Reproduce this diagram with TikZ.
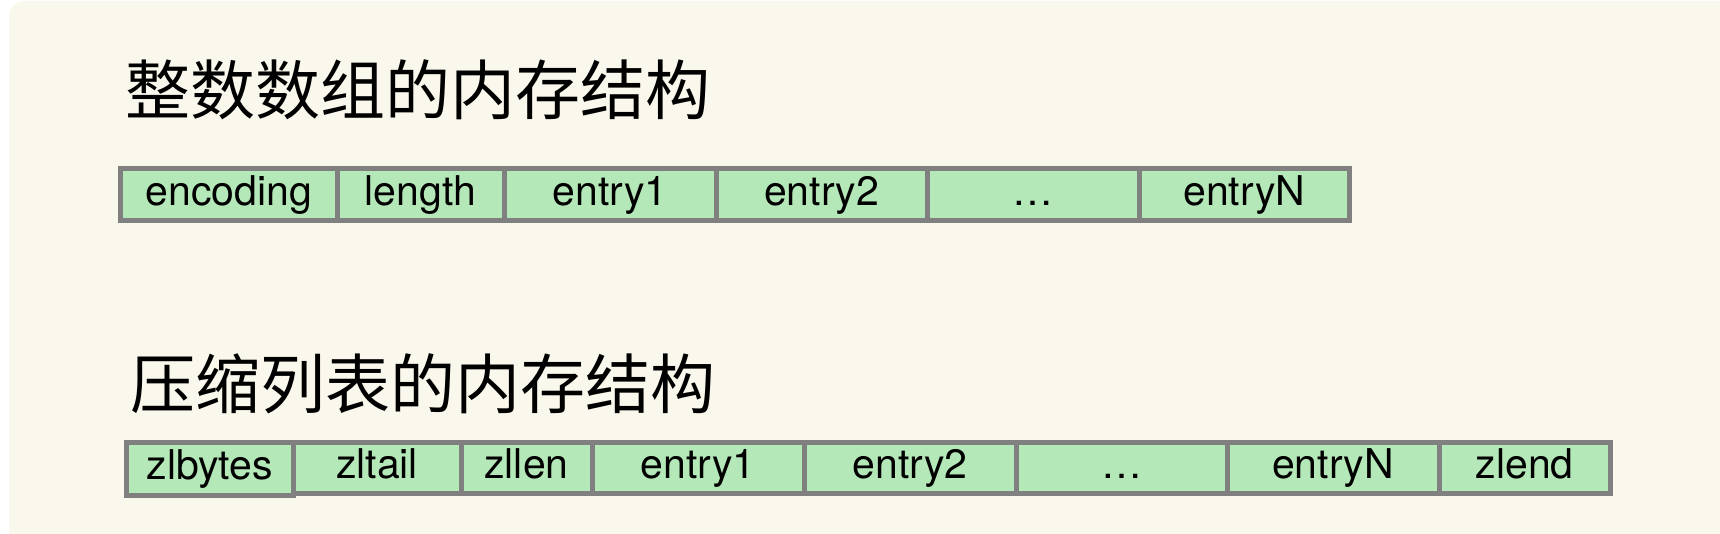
\documentclass[tikz,border=0pt]{standalone}
\usepackage{fontspec}
\setmainfont{TeX Gyre Heros}
\newfontfamily\cjk{Noto Sans CJK SC}
\definecolor{cream}{RGB}{250,248,236}
\definecolor{cellfill}{RGB}{181,232,184}
\definecolor{cellline}{RGB}{128,128,128}
\tikzset{
  cell/.style={draw=cellline, fill=cellfill, line width=5pt, inner sep=0pt, outer sep=0pt,
    font=\fontsize{41}{49}\selectfont, text height=29.5pt, text depth=8.2pt, anchor=center},
  title/.style={font=\cjk\fontsize{65}{78}\selectfont, inner sep=0pt, anchor=center}
}
\begin{document}
\begin{tikzpicture}[x=1pt,y=-1pt]
\useasboundingbox (0,0) rectangle (1720,534);
\clip (0,0) rectangle (1720,534);
\fill[white] (0,0) rectangle (1720,534);
\fill[cream, rounded corners=16pt] (9,1) rectangle (1760,580);

\node[title] (t1) at (417.5,89.5) {整数数组的内存结构};
\node[title] (t2) at (422.5,383.5) {压缩列表的内存结构};

% top row: x 120.5,337,504,716,927,1139,1349.5 ; y 168.5..220.5
\node[cell, minimum width=216.5pt, minimum height=52pt] (a1) at (228.75,194.5) {encoding};
\node[cell, minimum width=167pt, minimum height=52pt] (a2) at (420.5,194.5) {length};
\node[cell, minimum width=212pt, minimum height=52pt] (a3) at (610,194.5) {entry1};
\node[cell, minimum width=211pt, minimum height=52pt] (a4) at (821.5,194.5) {entry2};
\node[cell, minimum width=212pt, minimum height=52pt] (a5) at (1033,194.5) {\dots};
\node[cell, minimum width=210.5pt, minimum height=52pt] (a6) at (1244.25,194.5) {entryN};

% bottom row: x 126.5,293,461,592,804,1016,1227,1439,1610.5 ; y 442.5..493.5
\node[cell, minimum width=168pt, minimum height=51pt] (b2) at (377,468) {zltail};
\node[cell, minimum width=131pt, minimum height=51pt] (b3) at (526.5,468) {zllen};
\node[cell, minimum width=212pt, minimum height=51pt] (b4) at (698,468) {entry1};
\node[cell, minimum width=212pt, minimum height=51pt] (b5) at (910,468) {entry2};
\node[cell, minimum width=211pt, minimum height=51pt] (b6) at (1121.5,468) {\dots};
\node[cell, minimum width=212pt, minimum height=51pt] (b7) at (1333,468) {entryN};
\node[cell, minimum width=171.5pt, minimum height=51pt] (b8) at (1524.75,468) {zlend};
\node[cell, minimum width=166.5pt, minimum height=53pt] (b1) at (209.75,469) {zlbytes};
\end{tikzpicture}
\end{document}
